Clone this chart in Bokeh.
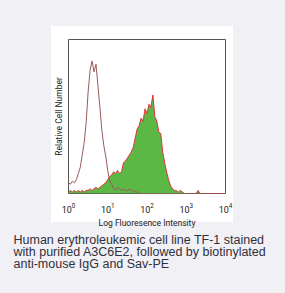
from bokeh.plotting import figure
from bokeh.models import FixedTicker, Range1d, Title
from bokeh.embed import file_html
from bokeh.resources import INLINE

# channel positions (log10 of fluorescence)
log_channel = [0.00, 0.05, 0.10, 0.15, 0.20, 0.25, 0.30, 0.35, 0.40, 0.45,
               0.50, 0.55, 0.60, 0.65, 0.70, 0.75, 0.80, 0.85, 0.90, 0.95,
               1.00, 1.05, 1.10, 1.15, 1.20, 1.25, 1.30, 1.35, 1.40, 1.45,
               1.50, 1.55, 1.60, 1.65, 1.70, 1.75, 1.80, 1.85, 1.90, 1.95,
               2.00, 2.05, 2.10, 2.15, 2.20, 2.25, 2.30, 2.35, 2.40, 2.45,
               2.50, 2.55, 2.60, 2.65, 2.70, 2.75, 2.80, 2.85, 2.90, 2.95,
               3.00, 3.05, 3.10, 3.15, 3.20, 3.25, 3.30, 3.35, 3.40, 3.45,
               3.50, 3.55, 3.60, 3.65, 3.70, 3.75, 3.80, 3.85, 3.90, 3.95, 4.00]

# isotype control (relative cell number, % of axis height)
isotype = [7, 6, 8, 7, 9, 13, 17, 25, 33, 46,
           66, 80, 86, 79, 84, 70, 56, 41, 31, 24,
           15, 8, 6, 3, 2, 4, 3, 2, 3, 2,
           2, 3, 2, 2, 1, 1, 0, 0, 0, 0,
           0, 0, 0, 0, 0, 0, 0, 0, 0, 0,
           0, 0, 0, 0, 0, 0, 0, 0, 0, 0,
           0, 0, 0, 0, 0, 0, 0, 0, 0, 0,
           0, 0, 0, 0, 0, 0, 0, 0, 0, 0, 0]

# A3C6E2 stained
stained = [1, 2, 1, 2, 1, 2, 1, 2, 1, 2,
           2, 3, 2, 3, 4, 3, 4, 5, 6, 7,
           9, 11, 12, 14, 13, 15, 13, 14, 20, 21,
           23, 25, 27, 30, 36, 42, 44, 49, 47, 55,
           52, 58, 56, 64, 50, 47, 40, 39, 27, 20,
           14, 9, 5, 3, 2, 2, 1, 2, 1, 0,
           0, 0, 0, 0, 0, 0, 2, 0, 0, 0,
           0, 0, 0, 0, 0, 0, 0, 0, 0, 0, 0]

x_ticks = [1, 10, 100, 1000, 10000]
caption = ["Human erythroleukemic cell line TF-1 stained",
           "with purified A3C6E2, followed by biotinylated",
           "anti-mouse IgG and Sav-PE"]

fluor = [10 ** v for v in log_channel]
PAGE_BG = "#f1f0f5"
BOX_CSS = ("linear-gradient(#ffffff, #ffffff) 51px 26px / 182px 196px no-repeat, " + PAGE_BG)

p = figure(width=285, height=293, output_backend="svg", toolbar_location=None, title=None,
           x_axis_type="log", x_range=Range1d(1, 10000), y_range=Range1d(0, 100),
           min_border_left=68, min_border_right=60, min_border_top=39, min_border_bottom=100,
           styles={"background": BOX_CSS})
p.border_fill_color = None
p.background_fill_color = "white"
p.outline_line_color = "#555555"
p.outline_line_width = 1
p.grid.visible = False

p.varea(x=fluor, y1=0, y2=stained, fill_color="#5cb845")
p.line(x=fluor, y=stained, line_color="#e0343c", line_width=1)
p.line(x=fluor, y=isotype, line_color="#9a5a5a", line_width=1)

p.xaxis.ticker = FixedTicker(ticks=x_ticks)
p.xaxis.axis_line_color = None
p.xaxis.major_tick_line_color = None
p.xaxis.minor_tick_line_color = None
p.xaxis.major_label_text_font = "Roboto"
p.xaxis.major_label_text_font_size = "9px"
p.xaxis.major_label_text_color = "#222222"
p.xaxis.major_label_standoff = 3
p.xaxis.axis_label = "Log Fluoresence Intensity"
p.xaxis.axis_label_text_font = "Roboto"
p.xaxis.axis_label_text_font_size = "8.5px"
p.xaxis.axis_label_text_font_style = "normal"
p.xaxis.axis_label_text_color = "#222222"
p.xaxis.axis_label_standoff = 2

p.yaxis.ticker = FixedTicker(ticks=[])
p.yaxis.axis_line_color = None
p.yaxis.major_tick_line_color = None
p.yaxis.minor_tick_line_color = None
p.yaxis.axis_label = "Relative Cell Number"
p.yaxis.axis_label_text_font = "Roboto"
p.yaxis.axis_label_text_font_size = "8.5px"
p.yaxis.axis_label_text_font_style = "normal"
p.yaxis.axis_label_text_color = "#222222"
p.yaxis.axis_label_standoff = 5

p.add_layout(Title(text="\n".join(caption), align="left", offset=13 - 68, standoff=1,
                   text_font="Liberation Sans", text_font_size="12.5px",
                   text_line_height=0.87,
                   text_font_style="normal", text_color="#30303c"), "below")

open("out.html", "w").write(file_html(p, INLINE))
